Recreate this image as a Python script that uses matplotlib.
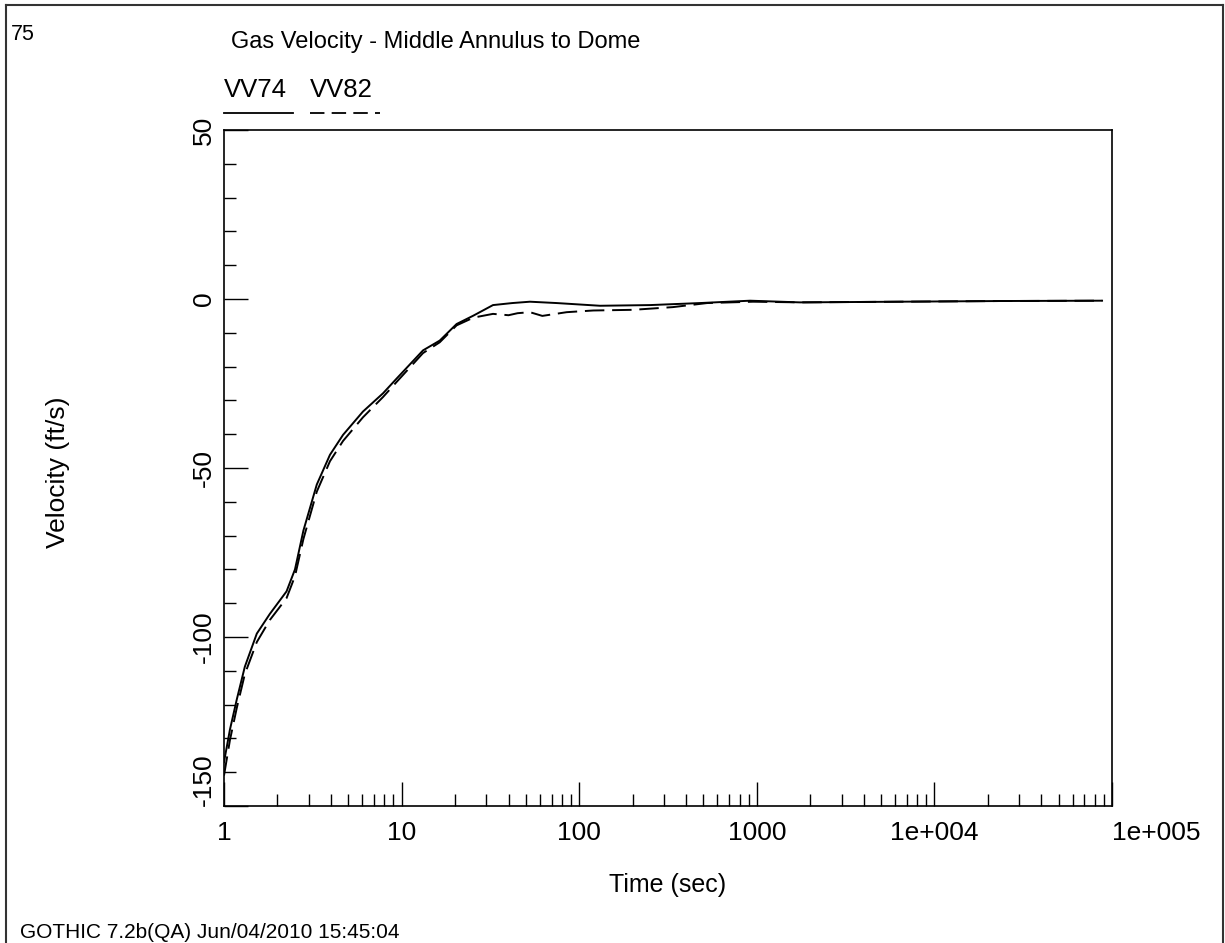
import numpy as np
import matplotlib
matplotlib.use("Agg")
import matplotlib.pyplot as plt
from matplotlib.lines import Line2D
from matplotlib.ticker import MultipleLocator, LogLocator, NullFormatter

# VV74 (solid)
t_vv74 = [1.0, 1.08, 1.18, 1.31, 1.53, 1.81, 2.25, 2.51, 2.8, 3.33, 3.95, 4.68,
          6.06, 7.86, 9.39, 13.2, 16.4, 20.4, 25.4, 32.7, 42.0, 52.8, 74.7, 131,
          250, 479, 916, 1750, 6400, 23400, 87900]
v_vv74 = [-137, -127.4, -118.5, -108.8, -99, -93.2, -86.5, -80.0, -68.5, -54.9, -46.1, -40.2,
          -33.3, -27.9, -23.5, -15.2, -12.3, -7.4, -4.9, -1.8, -1.2, -0.8, -1.2, -2.0,
          -1.8, -1.2, -0.5, -1.0, -0.8, -0.6, -0.5]

# VV82 (dashed)
t_vv82 = [1.0, 1.08, 1.18, 1.31, 1.53, 1.81, 2.25, 2.51, 2.8, 3.33, 3.95, 4.68,
          6.06, 7.86, 9.39, 13.2, 16.4, 20.4, 25.4, 32.7, 40.0, 45.0, 52.8, 62.0,
          85, 120, 201, 337, 525, 953, 1750, 6400, 23400, 87900]
v_vv82 = [-141, -130.5, -121, -111, -101.5, -95, -88.5, -82, -71, -57, -48, -42,
          -35, -29, -24.5, -16, -12.8, -7.8, -5.5, -4.4, -4.8, -4.2, -3.9, -5.0,
          -3.9, -3.4, -3.2, -2.4, -1.2, -0.8, -1.0, -0.8, -0.6, -0.5]

xtick_vals = [1, 10, 100, 1000, 1e4, 1e5]
xtick_labels = ["1", "10", "100", "1000", "1e+004", "1e+005"]
ytick_vals = [-150, -100, -50, 0, 50]

plt.rcParams['font.family'] = ['Liberation Sans', 'DejaVu Sans']
plt.rcParams['axes.unicode_minus'] = False

W, H = 1225, 943
fig = plt.figure(figsize=(W / 100, H / 100), dpi=100)
ax = fig.add_axes([224 / W, 1 - 806 / H, (1112 - 224) / W, (806 - 130) / H])

ax.plot(t_vv74, v_vv74, color='black', lw=1.4)
ax.plot(t_vv82, v_vv82, color='black', lw=1.4, dashes=(10, 4))

ax.set_xscale('log')
ax.set_xlim(1, 1e5)
ax.set_ylim(-150, 50)

ax.set_xticks(xtick_vals)
ax.set_xticklabels(xtick_labels)
ax.xaxis.set_minor_locator(LogLocator(base=10, subs=np.arange(2, 10), numticks=20))
ax.xaxis.set_minor_formatter(NullFormatter())
ax.set_yticks(ytick_vals)
ax.yaxis.set_minor_locator(MultipleLocator(10))

ax.tick_params(which='both', direction='in', top=False, right=False, width=1.0, color='black')
ax.tick_params(which='major', length=17)
ax.tick_params(which='minor', length=8.5)
ax.tick_params(axis='x', which='major', labelsize=19, pad=11)
ax.tick_params(axis='y', which='major', labelsize=19, pad=6)
for lbl in ax.get_yticklabels():
    lbl.set_rotation(90)
    lbl.set_va('center')
ax.get_yticklabels()[0].set_va('bottom')
ax.get_xticklabels()[-1].set_ha('left')

for s in ax.spines.values():
    s.set_linewidth(1.2)

# labels and title
fig.text(668 / W, 1 - 885 / H, "Time (sec)", ha='center', va='center', fontsize=18)
fig.text(58 / W, 1 - 472 / H, "Velocity (ft/s)", ha='center', va='center', rotation=90, fontsize=19)
fig.text(231 / W, 1 - 48 / H, "Gas Velocity - Middle Annulus to Dome", ha='left', va='baseline', fontsize=17)
fig.text(11 / W, 1 - 40 / H, "75", ha='left', va='baseline', fontsize=15.5)
fig.text(20 / W, 1 - 938 / H, "GOTHIC 7.2b(QA) Jun/04/2010 15:45:04", ha='left', va='baseline', fontsize=15)

# legend
fig.text(224 / W, 1 - 97 / H, "VV74", ha='left', va='baseline', fontsize=18.5)
fig.text(310 / W, 1 - 97 / H, "VV82", ha='left', va='baseline', fontsize=18.5)
ly = 1 - 113 / H
fig.add_artist(Line2D([224 / W, 293 / W], [ly, ly], color='black', lw=1.3))
fig.add_artist(Line2D([310 / W, 380 / W], [ly, ly], color='black', lw=1.3, dashes=(8, 4)))

# page frame
fig.add_artist(Line2D([6 / W, 6 / W], [0, 1 - 5 / H], color='#333333', lw=1.5))
fig.add_artist(Line2D([6 / W, 1223 / W], [1 - 5 / H, 1 - 5 / H], color='#333333', lw=1.5))
fig.add_artist(Line2D([1223 / W, 1223 / W], [0, 1 - 5 / H], color='#333333', lw=1.5))

fig.savefig("out.png", dpi=100)
